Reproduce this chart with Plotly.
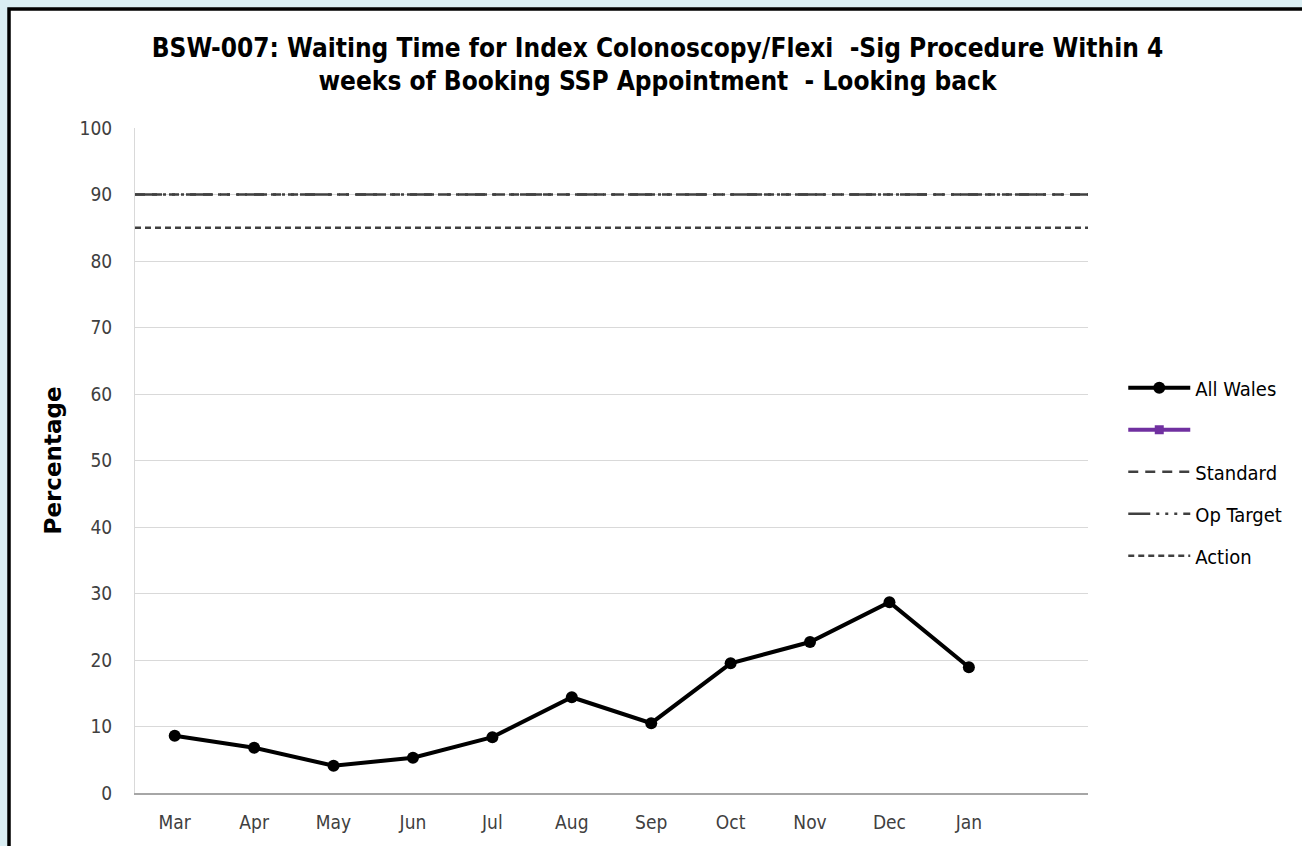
import plotly.graph_objects as go

# datos
meses = ["Mar", "Apr", "May", "Jun", "Jul", "Aug", "Sep", "Oct", "Nov", "Dec", "Jan"]
all_wales = [8.6, 6.8, 4.1, 5.3, 8.4, 14.4, 10.5, 19.5, 22.7, 28.7, 18.9]
serie_vacia = [None] * len(meses)
standard = 90
op_target = 90
action = 85

categorias = meses + [" "]

fig = go.Figure()

fig.add_trace(go.Scatter(
    x=meses, y=all_wales, name="All Wales", mode="lines+markers",
    line=dict(color="black", width=4),
    marker=dict(color="black", size=12, symbol="circle"),
    legendgroup="a", legendrank=1,
))
fig.add_trace(go.Scatter(
    x=meses, y=serie_vacia, name=" ", mode="lines+markers",
    line=dict(color="#7030a0", width=4),
    marker=dict(color="#7030a0", size=9, symbol="square"),
    legendgroup="b", legendrank=2,
))

# lineas de referencia a todo lo ancho
lineas = [
    ("Standard", standard, "#404040", "10px,7px", 2.5, 3),
    ("Op Target", op_target, "#404040", "22px,6px,3px,6px,3px,6px,3px,6px", 2.5, 4),
    ("Action", action, "#404040", "6px,4px", 2.5, 5),
]
for nombre, valor, color, dash, ancho, rank in lineas:
    fig.add_shape(
        type="line", xref="paper", x0=0, x1=1, yref="y", y0=valor, y1=valor,
        line=dict(color=color, width=ancho, dash=dash),
        showlegend=True, name=nombre, legendrank=rank, legendgroup=nombre,
    )

# marco blanco con borde negro
fig.add_shape(
    type="rect", xref="paper", yref="paper",
    x0=-0.1322, x1=1.3, y0=-0.2, y1=1.179,
    line=dict(color="black", width=3.5), fillcolor="white", layer="below",
)

fig.update_layout(
    width=1302, height=846,
    margin=dict(l=135, r=214, t=128, b=53),
    paper_bgcolor="#daeef3", plot_bgcolor="white",
    font=dict(family="DejaVu Sans", size=19, color="#404040"),
    title=dict(
        text="<b>BSW-007: Waiting Time for Index Colonoscopy/Flexi  -Sig Procedure Within 4<br>weeks of Booking SSP Appointment  - Looking back</b>",
        x=0.505, xanchor="center", xref="container", y=0.933, yanchor="top",
        font=dict(family="DejaVu Sans Condensed", size=26, color="black"),
    ),
    showlegend=True,
    legend=dict(
        x=1.037, xanchor="left", y=0.483, yanchor="middle",
        traceorder="grouped", tracegroupgap=13, itemwidth=62,
        font=dict(family="DejaVu Sans Condensed", size=20, color="black"),
        bgcolor="rgba(0,0,0,0)",
    ),
    xaxis=dict(
        type="category", categoryorder="array", categoryarray=categorias,
        tickvals=categorias, range=[-0.5, 11.5],
        showgrid=False, showline=True, linecolor="#a6a6a6", linewidth=1.5,
        ticks="", tickfont=dict(family="DejaVu Sans Condensed", size=19, color="#404040"),
        ticklabelstandoff=11,
    ),
    yaxis=dict(
        range=[0, 100], dtick=10, showgrid=True, gridcolor="#d9d9d9", gridwidth=1,
        showline=True, linecolor="#d9d9d9", linewidth=1, zeroline=False,
        ticks="", tickfont=dict(family="DejaVu Sans Condensed", size=19, color="#404040"),
        ticklabelstandoff=18,
        title=dict(text="<b>Percentage</b>", font=dict(family="DejaVu Sans", size=23, color="black"),
                   standoff=11),
    ),
)

# quitar el margen del body para que la figura empiece en 0,0
fig.write_html("out.html", config={"displayModeBar": False},
               post_script="document.body.style.margin='0px';")
